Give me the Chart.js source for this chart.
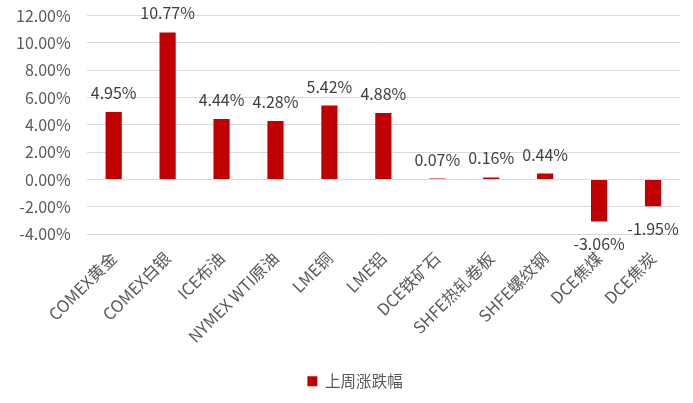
<!DOCTYPE html>
<html>
  <head>
    <meta charset="utf-8" />
    <title>上周涨跌幅</title>
    <style>
      html, body { margin: 0; padding: 0; background: #fff; }
      #wrap { width: 693px; height: 403px; }
    </style>
    <script src="https://cdn.jsdelivr.net/npm/chart.js"></script>
  </head>
  <body>
    <div id="wrap"><canvas id="chart"></canvas></div>
    <script>
      var categories = [
        "COMEX黄金", "COMEX白银", "ICE布油", "NYMEX WTI原油", "LME铜", "LME铝",
        "DCE铁矿石", "SHFE热轧卷板", "SHFE螺纹钢", "DCE焦煤", "DCE焦炭"
      ];
      var weeklyChange = [4.95, 10.77, 4.44, 4.28, 5.42, 4.88, 0.07, 0.16, 0.44, -3.06, -1.95];
      var seriesName = "上周涨跌幅";

      var FONT = "'Noto Sans CJK SC', 'Noto Sans', sans-serif";

      // draws the value labels above (or below) each bar
      var valueLabels = {
        id: "valueLabels",
        afterLayout: function (chart) {
          // legend sits a little right of the canvas centre
          chart.legend.left += 10;
          chart.legend.right += 10;
        },
        afterDatasetsDraw: function (chart) {
          var ctx = chart.ctx;
          var meta = chart.getDatasetMeta(0);
          ctx.save();
          ctx.font = "16px " + FONT;
          ctx.fillStyle = "#404040";
          ctx.textAlign = "center";
          ctx.textBaseline = "middle";
          meta.data.forEach(function (bar, i) {
            var v = chart.data.datasets[0].data[i];
            var y = v >= 0 ? bar.y - 19 : bar.y + 23;
            ctx.fillText(v.toFixed(2) + "%", bar.x, y);
          });
          ctx.restore();
        }
      };

      var ctx = document.getElementById("chart").getContext("2d");
      var chart = new Chart(ctx, {
        type: "bar",
        data: {
          labels: categories,
          datasets: [
            {
              label: seriesName,
              data: weeklyChange,
              backgroundColor: "#C00000",
              borderWidth: 0,
              barPercentage: 0.3,
              categoryPercentage: 1.0
            }
          ]
        },
        options: {
          responsive: true,
          maintainAspectRatio: false,
          animation: false,
          layout: { padding: { left: 10, right: 13, top: 0, bottom: 4 } },
          plugins: {
            legend: {
              position: "bottom",
              labels: {
                boxWidth: 10,
                boxHeight: 10,
                color: "#595959",
                font: { family: FONT, size: 15.5 },
                padding: 13
              }
            },
            tooltip: { enabled: false }
          },
          scales: {
            x: {
              grid: { display: false, drawTicks: false },
              border: { display: false },
              ticks: {
                color: "#595959",
                font: { family: FONT, size: 16.5 },
                maxRotation: 45,
                minRotation: 45,
                autoSkip: false,
                padding: 14
              }
            },
            y: {
              min: -4,
              max: 12,
              grid: {
                color: "#D9D9D9",
                lineWidth: 1,
                drawTicks: true,
                tickLength: 10,
                tickColor: "rgba(0,0,0,0)"
              },
              border: { display: false },
              ticks: {
                stepSize: 2,
                color: "#595959",
                font: { family: FONT, size: 16 },
                padding: 6,
                callback: function (v) { return v.toFixed(2) + "%"; }
              }
            }
          }
        },
        plugins: [valueLabels]
      });
    </script>
  </body>
</html>
